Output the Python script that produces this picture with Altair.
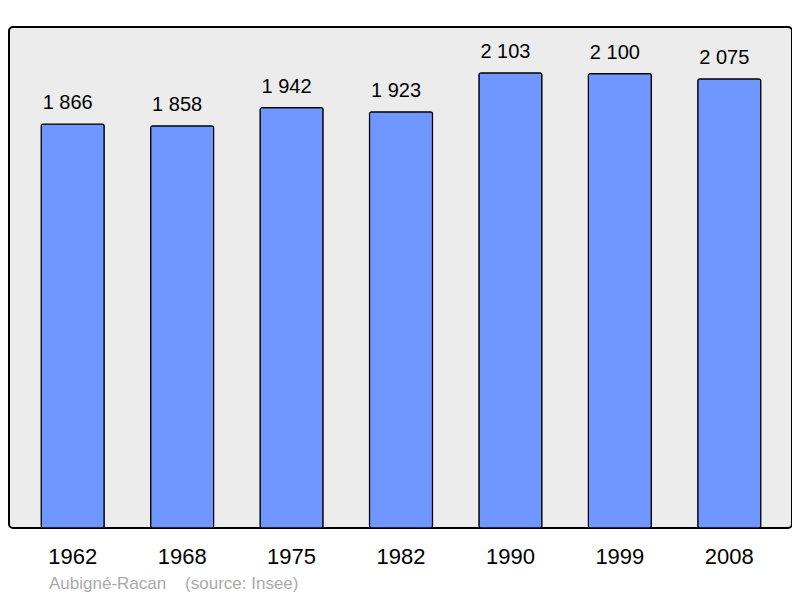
import altair as alt
import pandas as pd

years = ["1962", "1968", "1975", "1982", "1990", "1999", "2008"]
population = [1866, 1858, 1942, 1923, 2103, 2100, 2075]
labels = ["1 866", "1 858", "1 942", "1 923", "2 103", "2 100", "2 075"]
source_text = ["Aubigné-Racan\u00a0\u00a0\u00a0\u00a0(source: Insee)"]

df = pd.DataFrame({"year": years, "pop": population, "label": labels})
FONT = "Liberation Sans"

x = alt.X("year:N", sort=years,
          scale=alt.Scale(range=[9, 775], paddingInner=0.424, paddingOuter=0.212),
          axis=alt.Axis(title=None, labelAngle=0, ticks=False, domain=False,
                        labelFontSize=22, labelFont=FONT, labelColor="#000",
                        labelPadding=18, grid=False))
y = alt.Y("pop:Q", scale=alt.Scale(domain=[0, 2315], nice=False, zero=True), axis=None)

bars = alt.Chart(df).mark_bar(color="#7096ff", stroke="#000", strokeWidth=1.2,
                              cornerRadius=2).encode(x=x, y=y)
text = alt.Chart(df).mark_text(dy=-11, dx=-5, fontSize=20, font=FONT, color="#000",
                               baseline="bottom").encode(
    x=alt.X("year:N", sort=years), y="pop:Q", text="label:N")
src = alt.Chart(pd.DataFrame({"t": source_text})).mark_text(
    align="left", baseline="alphabetic", fontSize=17, font=FONT, color="#aaaaaa"
).encode(text="t:N", x=alt.value(40), y=alt.value(562))

chart = alt.layer(bars, text, src).properties(
    width=783, height=501,
    autosize=alt.AutoSizeParams(type="none"),
    padding={"left": 1, "top": 19, "right": 0, "bottom": 66},
).configure_view(fill="#ececec", stroke="#000", strokeWidth=2, cornerRadius=4)

chart.save("out.html", embed_options={"renderer": "svg", "actions": False})
